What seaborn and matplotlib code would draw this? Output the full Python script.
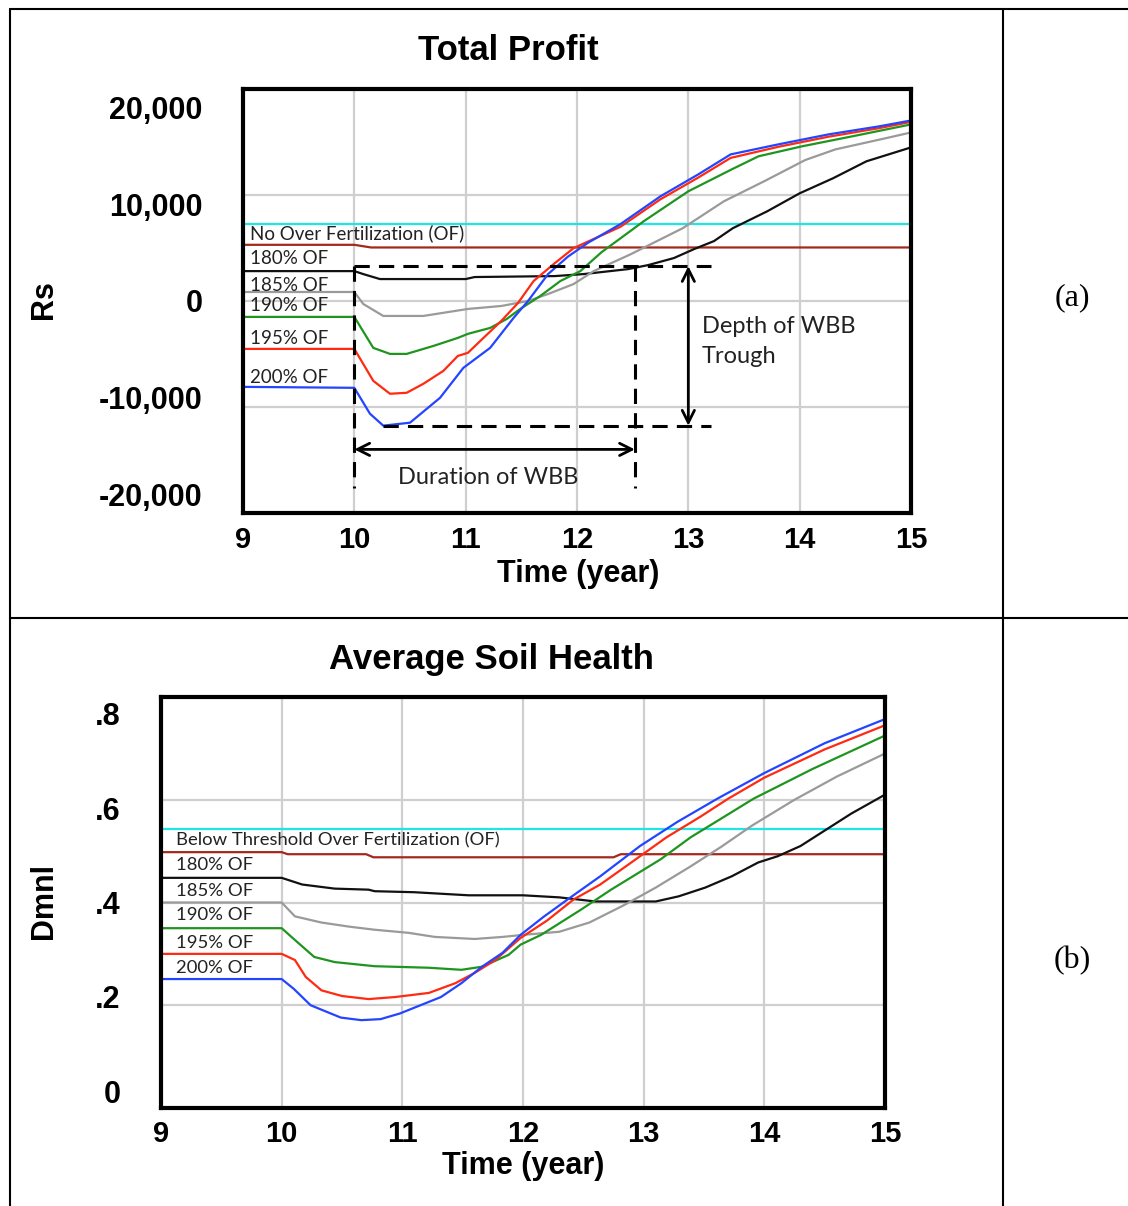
import matplotlib
matplotlib.use("Agg")
import matplotlib.pyplot as plt
from matplotlib.lines import Line2D
import pandas as pd
import seaborn as sns

# ---- (a) Total Profit, Rs ----
run_names = ["No Over Fertilization (OF)", "180% OF", "185% OF", "190% OF", "195% OF", "200% OF"]

a_noof_t = [9, 15]
a_noof_v = [7250, 7250]
a_180_t = [9, 10.0, 10.15, 15]
a_180_v = [5300, 5300, 5050, 5050]
a_185_t = [9, 10.0, 10.08, 10.23, 11.0, 11.08, 11.8, 12.06, 12.46, 12.64, 12.87, 13.05,
           13.23, 13.4, 13.71, 14.0, 14.3, 14.6, 15.0]
a_185_v = [2820, 2820, 2540, 2070, 2070, 2260, 2350, 2540, 3010, 3390, 4050, 4890,
           5650, 6870, 8470, 10160, 11580, 13180, 14490]
a_190_t = [9, 10.0, 10.08, 10.26, 10.62, 11.02, 11.32, 11.56, 11.74, 11.97, 12.15, 12.48,
           12.95, 13.32, 13.68, 14.05, 14.32, 14.77, 15.0]
a_190_v = [850, 850, -280, -1410, -1410, -750, -470, 0, 660, 1600, 2820, 4400,
           6870, 9410, 11290, 13300, 14300, 15350, 15900]
a_195_t = [9, 10.0, 10.17, 10.32, 10.47, 10.71, 10.93, 11.02, 11.22, 11.37, 11.49, 11.67,
           11.85, 12.03, 12.22, 12.6, 13.0, 13.39, 13.63, 14.02, 14.47, 15.0]
a_195_v = [-1500, -1500, -4420, -4990, -4990, -4240, -3480, -3100, -2540, -1690, -750, 470,
           1880, 2820, 4600, 7530, 10350, 12420, 13650, 14590, 15530, 16660]
a_200_t = [9, 10.0, 10.17, 10.32, 10.47, 10.62, 10.8, 10.93, 11.02, 11.16, 11.32, 11.47,
           11.61, 11.79, 11.97, 12.39, 12.75, 13.09, 13.38, 13.81, 14.26, 14.71, 15.0]
a_200_v = [-4520, -4520, -7530, -8750, -8660, -7810, -6590, -5180, -4890, -3480, -1880, -190,
           1880, 3480, 4990, 7000, 9600, 11650, 13500, 14550, 15500, 16300, 16900]
a_205_t = [9, 10.0, 10.14, 10.26, 10.5, 10.77, 10.98, 11.22, 11.43, 11.56, 11.74, 11.92,
           12.1, 12.39, 12.75, 13.09, 13.38, 13.81, 14.26, 14.71, 15.0]
a_205_v = [-8100, -8190, -10630, -11760, -11480, -9130, -6300, -4420, -1600, 0, 2540, 4200,
           5500, 7250, 9880, 11950, 13830, 14780, 15720, 16470, 17030]
a_label_y = [6400, 4050, 1500, -470, -3580, -7250]
a_ytick_values = [20000, 10000, 0, -10000, -20000]
a_ytick_text = ["20,000", "10,000", "0", "-10,000", "-20,000"]

# WBB markers on panel (a)
wbb_start, wbb_end, wbb_marker_end = 10.0, 12.52, 13.2
trough_top, trough_bottom, wbb_floor = 3290, -11760, -17600
trough_start, depth_arrow_x, duration_arrow_y = 10.26, 13.0, -14000

# ---- (b) Average Soil Health, Dmnl ----
b_names = ["Below Threshold Over Fertilization (OF)"] + run_names[1:]
b_bt_t = [9, 15]
b_bt_v = [0.543, 0.543]
b_180_t = [9, 10.0, 10.05, 10.7, 10.76, 12.75, 12.81, 15]
b_180_v = [0.498, 0.498, 0.494, 0.494, 0.488, 0.488, 0.494, 0.494]
b_185_t = [9, 10.0, 10.17, 10.44, 10.72, 10.77, 11.1, 11.55, 12.0, 12.3, 12.6, 13.1,
           13.29, 13.51, 13.73, 13.95, 14.11, 14.3, 14.56, 14.72, 14.94, 15.0]
b_185_v = [0.448, 0.448, 0.435, 0.427, 0.425, 0.422, 0.420, 0.414, 0.414, 0.410, 0.402, 0.402,
           0.412, 0.429, 0.451, 0.478, 0.490, 0.510, 0.549, 0.573, 0.602, 0.61]
b_190_t = [9, 10.0, 10.11, 10.33, 10.56, 10.77, 11.05, 11.27, 11.6, 11.83, 12.0, 12.3,
           12.55, 12.83, 13.1, 13.38, 13.64, 13.9, 14.25, 14.6, 15.0]
b_190_v = [0.4, 0.4, 0.373, 0.361, 0.353, 0.347, 0.341, 0.333, 0.329, 0.333, 0.337, 0.343,
           0.361, 0.394, 0.429, 0.469, 0.508, 0.55, 0.6, 0.645, 0.69]
b_195_t = [9, 10.0, 10.11, 10.27, 10.44, 10.77, 11.22, 11.49, 11.66, 11.88, 11.98, 12.15,
           12.48, 12.73, 13.14, 13.39, 13.64, 13.91, 14.4, 15.0]
b_195_v = [0.35, 0.35, 0.327, 0.294, 0.284, 0.276, 0.273, 0.269, 0.275, 0.298, 0.318, 0.337,
           0.386, 0.425, 0.484, 0.527, 0.563, 0.602, 0.66, 0.725]
b_200_t = [9, 10.0, 10.11, 10.2, 10.33, 10.5, 10.72, 10.94, 11.22, 11.44, 11.6, 11.77,
           11.98, 12.2, 12.42, 12.64, 12.91, 13.19, 13.47, 13.7, 14.0, 14.5, 15.0]
b_200_v = [0.3, 0.3, 0.288, 0.255, 0.229, 0.218, 0.212, 0.216, 0.224, 0.243, 0.263, 0.288,
           0.331, 0.365, 0.406, 0.435, 0.480, 0.527, 0.567, 0.602, 0.643, 0.698, 0.745]
b_205_t = [9, 10.0, 10.1, 10.24, 10.49, 10.66, 10.82, 10.98, 11.15, 11.32, 11.49, 11.66,
           11.83, 11.98, 12.17, 12.37, 12.64, 12.97, 13.28, 13.61, 14.0, 14.5, 15.0]
b_205_v = [0.251, 0.251, 0.232, 0.2, 0.176, 0.171, 0.173, 0.184, 0.2, 0.216, 0.243, 0.275,
           0.302, 0.337, 0.372, 0.406, 0.451, 0.510, 0.557, 0.602, 0.652, 0.71, 0.757]
b_label_y = [0.520, 0.473, 0.422, 0.375, 0.322, 0.273]
b_ytick_values = [0.8, 0.6, 0.4, 0.2, 0]
b_ytick_text = [".8", ".6", ".4", ".2", "0"]

line_colors = ["#1ee6e6", "#a3281e", "#111111", "#9a9a9a", "#1f951f", "#ff2a12", "#2345ff"]


def long_frame(times, values):
    parts = [pd.DataFrame({"time": t, "value": v, "run": i})
             for i, (t, v) in enumerate(zip(times, values))]
    return pd.concat(parts, ignore_index=True)


df_a = long_frame([a_noof_t, a_180_t, a_185_t, a_190_t, a_195_t, a_200_t, a_205_t],
                  [a_noof_v, a_180_v, a_185_v, a_190_v, a_195_v, a_200_v, a_205_v])
df_b = long_frame([b_bt_t, b_180_t, b_185_t, b_190_t, b_195_t, b_200_t, b_205_t],
                  [b_bt_v, b_180_v, b_185_v, b_190_v, b_195_v, b_200_v, b_205_v])

sns.set_style("white")
plt.rcParams["font.family"] = ["Liberation Sans", "DejaVu Sans"]
plt.rcParams["text.color"] = "black"
plt.rcParams["xtick.color"] = "black"
plt.rcParams["ytick.color"] = "black"
note_font = ["Lato", "DejaVu Sans"]

W, H = 1128, 1206
fig = plt.figure(figsize=(W / 100, H / 100), dpi=100)
ax_a = fig.add_axes([243 / W, 1 - 513 / H, 668 / W, 424 / H])
ax_b = fig.add_axes([161 / W, 1 - 1108 / H, 724 / W, 411 / H])


def style_panel(ax, ylim, yticks, label_lim, label_ticks, label_text):
    ax.set_xlim(9, 15)
    ax.set_ylim(*ylim)
    ax.set_xticks(range(9, 16))
    ax.set_yticks(yticks)
    ax.grid(True, color="#cfcfcf", lw=1.6)
    ax.set_axisbelow(True)
    ax.tick_params(axis="both", length=0)
    ax.tick_params(axis="x", labelsize=21, pad=9, labelcolor="black")
    ax.tick_params(axis="y", labelleft=False)
    ax.set_xlabel("")
    ax.set_ylabel("")
    for s in ax.spines.values():
        s.set_visible(True)
        s.set_color("black")
        s.set_linewidth(3)
    for t in ax.get_xticklabels():
        t.set_fontweight("bold")
    # tick labels sit slightly off the grid in the original; separate scale for them
    lab = ax.twinx()
    lab.set_ylim(*label_lim)
    lab.set_yticks(label_ticks)
    lab.set_yticklabels(label_text, fontsize=22, fontweight="bold", color="black")
    lab.yaxis.tick_left()
    lab.tick_params(length=0, pad=29)
    lab.grid(False)
    for s in lab.spines.values():
        s.set_visible(False)


for ax, df in [(ax_a, df_a), (ax_b, df_b)]:
    sns.lineplot(data=df, x="time", y="value", hue="run", palette=line_colors,
                 estimator=None, sort=True, legend=False, lw=1.6, ax=ax)

style_panel(ax_a, (-20000, 20000), [-20000, -10000, 0, 10000, 20000],
            (-21856, 21856), a_ytick_values, a_ytick_text)
style_panel(ax_b, (0, 0.8), [0, 0.2, 0.4, 0.6, 0.8],
            (-0.036, 0.836), b_ytick_values, b_ytick_text)

for name, y in zip(run_names, a_label_y):
    ax_a.text(9.063, y, name, ha="left", va="center", fontsize=13.5,
              family=note_font, color="#222222")
for name, y in zip(b_names, b_label_y):
    ax_b.text(9.125, y, name, ha="left", va="center", fontsize=13.3,
              family=note_font, color="#222222")

# WBB trough / duration markers
dash = dict(color="black", lw=2.2, ls=(0, (5, 3)))
ax_a.plot([wbb_start, wbb_marker_end], [trough_top, trough_top], **dash)
ax_a.plot([trough_start, wbb_marker_end], [trough_bottom, trough_bottom], **dash)
ax_a.plot([wbb_start, wbb_start], [trough_top, wbb_floor], **dash)
ax_a.plot([wbb_end, wbb_end], [trough_top, wbb_floor], **dash)
arrow = dict(arrowstyle="<->", color="black", lw=2, mutation_scale=22, shrinkA=0, shrinkB=0)
ax_a.annotate("", xy=(wbb_start, duration_arrow_y), xytext=(wbb_end, duration_arrow_y),
              arrowprops=arrow)
ax_a.annotate("", xy=(depth_arrow_x, trough_top), xytext=(depth_arrow_x, trough_bottom),
              arrowprops=arrow)
ax_a.text(11.2, -16650, "Duration of WBB", ha="center", va="center", fontsize=17,
          family=note_font, color="#222222")
ax_a.text(13.12, -3800, "Depth of WBB\nTrough", ha="left", va="center", fontsize=17,
          family=note_font, color="#222222", linespacing=1.5)

# titles and axis names
fig.text(508 / W, 1 - 50 / H, "Total Profit", ha="center", va="center",
         fontsize=25, fontweight="bold")
fig.text(491 / W, 1 - 660 / H, "Average Soil Health", ha="center", va="center",
         fontsize=25, fontweight="bold")
fig.text(578 / W, 1 - 574 / H, "Time (year)", ha="center", va="center",
         fontsize=22, fontweight="bold")
fig.text(523 / W, 1 - 1166 / H, "Time (year)", ha="center", va="center",
         fontsize=22, fontweight="bold")
fig.text(44 / W, 1 - 300 / H, "Rs", ha="center", va="center", rotation=90,
         fontsize=22, fontweight="bold")
fig.text(44 / W, 1 - 901 / H, "Dmnl", ha="center", va="center", rotation=90,
         fontsize=22, fontweight="bold")
fig.text(1072 / W, 1 - 298 / H, "(a)", ha="center", va="center", fontsize=23,
         family=["Liberation Serif", "DejaVu Serif"])
fig.text(1072 / W, 1 - 961 / H, "(b)", ha="center", va="center", fontsize=23,
         family=["Liberation Serif", "DejaVu Serif"])

# table frame around the two panels
for (x0, y0), (x1, y1) in [((10, 9), (W, 9)), ((10, 618), (W, 618)),
                           ((10, 9), (10, H)), ((1003, 9), (1003, H))]:
    fig.add_artist(Line2D([x0 / W, x1 / W], [1 - y0 / H, 1 - y1 / H],
                          transform=fig.transFigure, color="black", lw=1.5))

fig.savefig("out.png", dpi=100)
